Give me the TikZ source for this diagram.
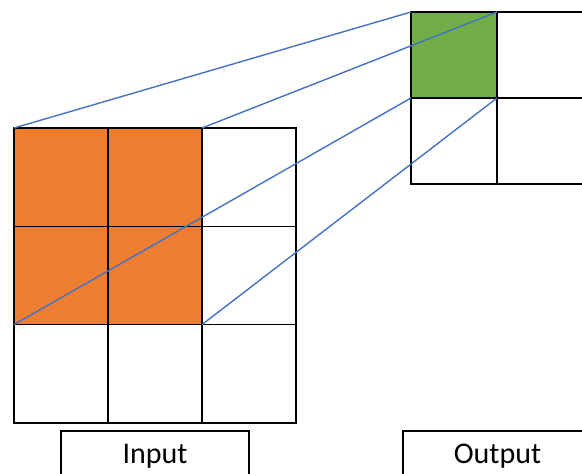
\documentclass[tikz,border=0pt]{standalone}
\usepackage{fontspec}
\setmainfont{Carlito}
\definecolor{convorange}{HTML}{ED7D31}
\definecolor{convgreen}{HTML}{70AD47}
\definecolor{convblue}{HTML}{4472C4}
\begin{document}
\begin{tikzpicture}[x=1pt,y=-1pt,
  incell/.style={minimum width=94pt, minimum height=98.3pt, inner sep=0pt, outer sep=0pt},
  outcell/.style={minimum width=86pt, minimum height=86pt, inner sep=0pt, outer sep=0pt},
  gridline/.style={draw=black, line width=1.5pt},
  labelbox/.style={draw=black, line width=1.1pt},
  labeltext/.style={font=\fontsize{30}{36}\selectfont, text=black, inner sep=0pt},
  rf/.style={draw=convblue, line width=1.4pt}]
\useasboundingbox (0,0) rectangle (582,474);
\clip (0,0) rectangle (582,474);
% input feature map, 3x3
\foreach \r/\yy in {1/177.15,2/275.45,3/373.75}{
  \foreach \c/\xx in {1/61,2/155,3/249}{
    \node[incell] (i\r\c) at (\xx,\yy) {};
  }
}
\fill[convorange] (i11.north west) rectangle (i22.south east);
\foreach \r in {1,2,3}{\foreach \c in {1,2,3}{\draw[gridline] (i\r\c.north west) rectangle (i\r\c.south east);}}
% output feature map, 2x2
\foreach \r/\yy in {1/55,2/141}{
  \foreach \c/\xx in {1/454,2/540}{
    \node[outcell] (o\r\c) at (\xx,\yy) {};
  }
}
\fill[convgreen] (o11.north west) rectangle (o11.south east);
\foreach \r in {1,2}{\foreach \c in {1,2}{\draw[gridline] (o\r\c.north west) rectangle (o\r\c.south east);}}
% receptive field projection
\draw[rf] (i11.north west) -- (o11.north west);
\draw[rf] (i12.north east) -- (o11.north east);
\draw[rf] (i21.south west) -- (o11.south west);
\draw[rf] (i22.south east) -- (o11.south east);
% captions
\draw[labelbox] (61,431) rectangle (249,490);
\node[labeltext, anchor=base] (inlabel) at (155,463) {Input};
\draw[labelbox] (403,431) rectangle (592,490);
\node[labeltext, anchor=base] (outlabel) at (497.5,463) {Output};
\end{tikzpicture}
\end{document}
